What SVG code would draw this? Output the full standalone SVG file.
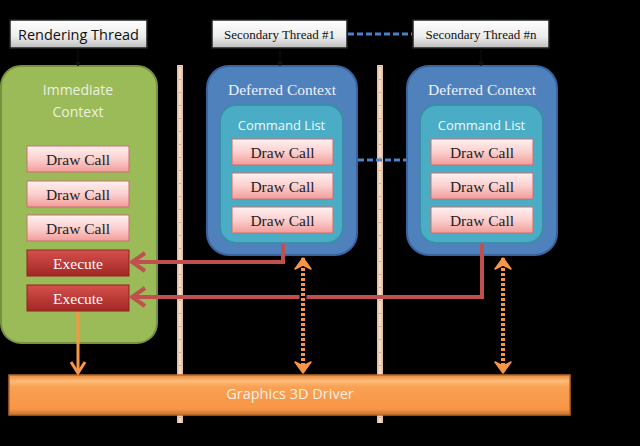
<svg xmlns="http://www.w3.org/2000/svg" width="640" height="446" viewBox="0 0 640 446">
<defs>
<linearGradient id="gThread" x1="0" y1="0" x2="0" y2="1"><stop offset="0" stop-color="#ffffff"/><stop offset="0.6" stop-color="#ececec"/><stop offset="1" stop-color="#bdbdbd"/></linearGradient>
<linearGradient id="gDraw" x1="0" y1="0" x2="0" y2="1"><stop offset="0" stop-color="#fff0f0"/><stop offset="0.5" stop-color="#fbd0cf"/><stop offset="1" stop-color="#f29c9a"/></linearGradient>
<linearGradient id="gExec" x1="0" y1="0" x2="0" y2="1"><stop offset="0" stop-color="#d5504c"/><stop offset="1" stop-color="#a22724"/></linearGradient>
<linearGradient id="gBar" x1="0" y1="0" x2="0" y2="1"><stop offset="0" stop-color="#e88a3a"/><stop offset="0.15" stop-color="#fdbb7a"/><stop offset="0.3" stop-color="#f9a052"/><stop offset="0.85" stop-color="#f79646"/><stop offset="1" stop-color="#c8702a"/></linearGradient>
<linearGradient id="gSep" x1="0" y1="0" x2="1" y2="0"><stop offset="0" stop-color="#d9b89c"/><stop offset="0.5" stop-color="#fbe0c8"/><stop offset="1" stop-color="#d9b89c"/></linearGradient>
<marker id="redHead" viewBox="-16 -12 18 24" markerWidth="18" markerHeight="24" refX="0" refY="0" orient="auto" markerUnits="userSpaceOnUse"><path d="M-13,-9 L0,0 L-13,9" fill="none" stroke="#c0504d" stroke-width="4"/></marker>
<marker id="orgHead" viewBox="-14 -10 16 20" markerWidth="16" markerHeight="20" refX="0" refY="0" orient="auto" markerUnits="userSpaceOnUse"><path d="M-11,-7 L0,0 L-11,7" fill="none" stroke="#f79646" stroke-width="3"/></marker>
<marker id="dotHead" viewBox="-14 -10 16 20" markerWidth="16" markerHeight="20" refX="0" refY="0" orient="auto-start-reverse" markerUnits="userSpaceOnUse"><path d="M-11,-8 L0,0 L-11,8 L-7,0 Z" fill="#f79646" stroke="#f79646" stroke-width="1.5" stroke-linejoin="round"/></marker>
<marker id="tiny" viewBox="-5 -4 6 8" markerWidth="6" markerHeight="8" refX="0" refY="0" orient="auto" markerUnits="userSpaceOnUse"><path d="M-4,-3 L0,0 L-4,3 Z" fill="#111"/></marker>
</defs>
<style>
.thread{fill:url(#gThread);stroke:#222;stroke-width:1.5}
.draw{fill:url(#gDraw);stroke:#c9706c;stroke-width:1}
.exec{fill:url(#gExec);stroke:#8e2522;stroke-width:1}
.serif{font-family:"Liberation Serif","Times New Roman",serif}
.sans{font-family:"Open Sans","Noto Sans",sans-serif}
.dc{font-size:15.5px;fill:#222;text-anchor:middle}
.ex{font-size:15.5px;fill:#fff;text-anchor:middle}
.sep{fill:url(#gSep)}
.sepdot{stroke:#b0612a;stroke-width:0.8;stroke-dasharray:1 12}
.bdash{stroke:#4a80cc;stroke-width:3;stroke-dasharray:6 3}
</style>
<rect width="640" height="446" fill="#000"/>

<g id="separators">
<rect class="sep" x="177" y="65" width="6" height="358"/>
<line class="sepdot" x1="180" y1="66" x2="180" y2="423"/>
<rect class="sep" x="377" y="65" width="6" height="358"/>
<line class="sepdot" x1="380" y1="66" x2="380" y2="423"/>
</g>

<g id="rendering-thread">
<rect class="thread" x="10" y="20" width="137" height="28"/>
<text class="sans" x="78.5" y="39.5" font-size="14.5" text-anchor="middle" fill="#111">Rendering Thread</text>
</g>
<g id="secondary-thread-1">
<rect class="thread" x="212" y="20" width="135" height="28"/>
<text class="serif" x="279.5" y="38.5" font-size="13" text-anchor="middle" fill="#111">Secondary Thread #1</text>
</g>
<g id="secondary-thread-n">
<rect class="thread" x="413" y="20" width="136" height="28"/>
<text class="serif" x="481" y="38.5" font-size="13" text-anchor="middle" fill="#111">Secondary Thread #n</text>
</g>

<g id="immediate-context">
<rect x="1" y="66" width="156" height="277" rx="20" fill="#9bbb59" stroke="#76923c" stroke-width="2"/>
<text class="sans" x="78" y="95" font-size="14" text-anchor="middle" fill="#ebf1de">Immediate</text>
<text class="sans" x="78" y="117" font-size="14" text-anchor="middle" fill="#ebf1de">Context</text>
<rect class="draw" x="27" y="146" width="102" height="26"/>
<text class="serif dc" x="78" y="164.5">Draw Call</text>
<rect class="draw" x="27" y="181" width="102" height="26"/>
<text class="serif dc" x="78" y="199.5">Draw Call</text>
<rect class="draw" x="27" y="215" width="102" height="26"/>
<text class="serif dc" x="78" y="233.5">Draw Call</text>
<rect class="exec" x="27" y="250" width="102" height="26"/>
<text class="serif ex" x="78" y="268.5">Execute</text>
<rect class="exec" x="27" y="285" width="102" height="26"/>
<text class="serif ex" x="78" y="303.5">Execute</text>
</g>

<g id="deferred-context-1">
<rect x="207" y="66" width="150" height="189" rx="22" fill="#4f81bd" stroke="#3a64a0" stroke-width="2"/>
<text class="serif" x="282" y="95" font-size="15.5" text-anchor="middle" fill="#eef3fa">Deferred Context</text>
<rect x="220" y="105" width="123" height="138" rx="16" fill="#4bacc6" stroke="#3a8fa8" stroke-width="2"/>
<text class="sans" x="281.5" y="130" font-size="13" text-anchor="middle" fill="#eefafd">Command List</text>
<rect class="draw" x="232" y="139" width="101" height="26"/>
<text class="serif dc" x="282.5" y="157.5">Draw Call</text>
<rect class="draw" x="232" y="173" width="101" height="26"/>
<text class="serif dc" x="282.5" y="191.5">Draw Call</text>
<rect class="draw" x="232" y="207" width="101" height="26"/>
<text class="serif dc" x="282.5" y="225.5">Draw Call</text>
</g>

<g id="deferred-context-n">
<rect x="407" y="66" width="150" height="189" rx="22" fill="#4f81bd" stroke="#3a64a0" stroke-width="2"/>
<text class="serif" x="482" y="95" font-size="15.5" text-anchor="middle" fill="#eef3fa">Deferred Context</text>
<rect x="420" y="105" width="123" height="138" rx="16" fill="#4bacc6" stroke="#3a8fa8" stroke-width="2"/>
<text class="sans" x="481.5" y="130" font-size="13" text-anchor="middle" fill="#eefafd">Command List</text>
<rect class="draw" x="431" y="139" width="102" height="26"/>
<text class="serif dc" x="482" y="157.5">Draw Call</text>
<rect class="draw" x="431" y="173" width="102" height="26"/>
<text class="serif dc" x="482" y="191.5">Draw Call</text>
<rect class="draw" x="431" y="207" width="102" height="26"/>
<text class="serif dc" x="482" y="225.5">Draw Call</text>
</g>

<g id="driver">
<rect x="9" y="375" width="561" height="40" fill="url(#gBar)" stroke="#b5682c" stroke-width="1.5"/>
<text class="sans" x="290" y="398.5" font-size="14.5" text-anchor="middle" fill="#fdf0e4">Graphics 3D Driver</text>
</g>

<g id="connectors">
<line x1="78" y1="48" x2="78" y2="66" stroke="#111" stroke-width="1" marker-end="url(#tiny)"/>
<line x1="280" y1="48" x2="280" y2="66" stroke="#111" stroke-width="1" marker-end="url(#tiny)"/>
<line x1="481" y1="48" x2="481" y2="66" stroke="#111" stroke-width="1" marker-end="url(#tiny)"/>
<line class="bdash" x1="348" y1="34" x2="412" y2="34"/>
<line class="bdash" x1="358" y1="160" x2="406" y2="160"/>
<path d="M283,244 V262 H132" fill="none" stroke="#c0504d" stroke-width="4" marker-end="url(#redHead)"/>
<path d="M482,244 V297 H132" fill="none" stroke="#c0504d" stroke-width="4" marker-end="url(#redHead)"/>
<line x1="78" y1="312" x2="78" y2="373" stroke="#f79646" stroke-width="3" marker-end="url(#orgHead)"/>
<line x1="303" y1="262" x2="303" y2="368" stroke="#000" stroke-width="7"/>
<line x1="303" y1="258" x2="303" y2="373" stroke="#f79646" stroke-width="4" stroke-dasharray="3 2" marker-start="url(#dotHead)" marker-end="url(#dotHead)"/>
<line x1="503" y1="262" x2="503" y2="368" stroke="#000" stroke-width="7"/>
<line x1="503" y1="258" x2="503" y2="373" stroke="#f79646" stroke-width="4" stroke-dasharray="3 2" marker-start="url(#dotHead)" marker-end="url(#dotHead)"/>
</g>
</svg>
